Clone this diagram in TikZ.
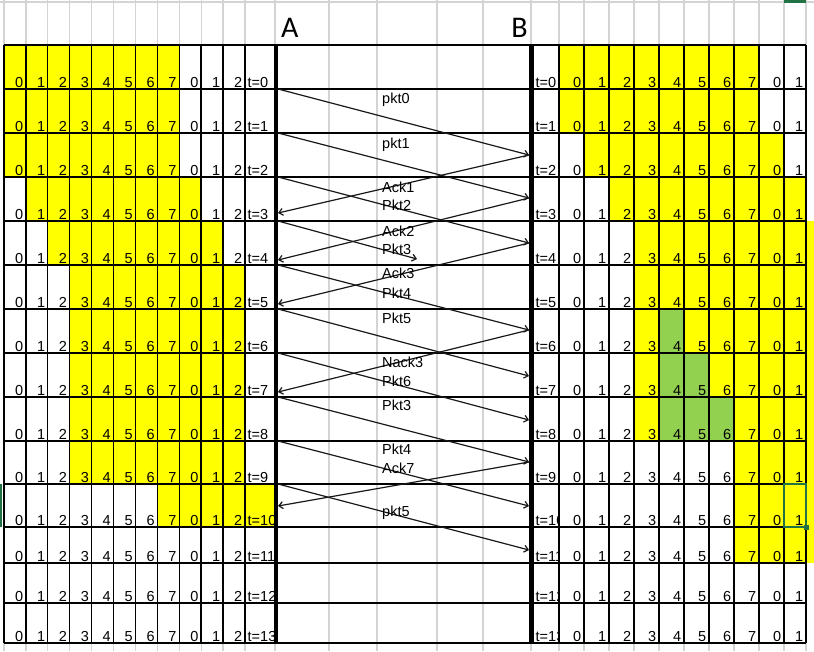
\documentclass[tikz,border=0pt]{standalone}
\usepackage{fontspec}
\setmainfont{Liberation Sans}
\newfontfamily\calib{Carlito}
\usetikzlibrary{arrows.meta}
\definecolor{xlyellow}{HTML}{FFFF00}
\definecolor{xlgreen}{HTML}{92D050}
\definecolor{xlgrid}{HTML}{D4D4D4}
\definecolor{xlsel}{HTML}{217346}
\begin{document}
\begin{tikzpicture}[x=1pt,y=-1pt,
  num/.style={inner sep=0pt,font=\fontsize{14.5}{14.5}\selectfont},
  lbl/.style={inner sep=0pt,anchor=west,font=\fontsize{14.5}{14.5}\selectfont},
  head/.style={inner sep=0pt,font=\calib\fontsize{30}{30}\selectfont},
  border/.style={line width=1.3pt,black},
  grid/.style={line width=1.2pt,xlgrid},
  host/.style={line width=4.5pt,black},
  msg/.style={line width=1.2pt,black!90,-{Straight Barb[length=4pt,width=7pt]}},
  sel/.style={line width=2pt,xlsel}]
\def\Y{{45,89,133,177,221,265,309,353,397,441,484,527,563,603,643}}
\def\XL{{4,25.9,47.8,69.7,91.6,113.5,135.4,157.3,179.2,201.1,223,244.9,274}}
\def\XR{{559,584,609,634,659,684,709,734,759,784,806}}
% background and spreadsheet gridlines
\fill[white] (0,0) rectangle (814,651);
\useasboundingbox (0,0) rectangle (814,651);
\draw[grid] (0,2) -- (814,2);
\foreach \x in {4,25.9,47.8,69.7,91.6,113.5,135.4,157.3,179.2,201.1,223,244.9,275,329,377,437,483,531,559,584,609,634,659,684,709,734,759,784,806}
  \draw[grid] (\x,0) -- (\x,651);
% yellow fills, left
\foreach \r/\a/\b in {0/0/7,1/0/7,2/0/7,3/1/8,4/2/9,5/3/10,6/3/10,7/3/10,8/3/10,9/3/10,10/7/11}{
  \pgfmathtruncatemacro\rr{\r+1}\pgfmathtruncatemacro\bb{\b+1}
  \pgfmathsetmacro\yt{\Y[\r]}\pgfmathsetmacro\yb{\Y[\rr]}
  \pgfmathsetmacro\xa{\XL[\a]}\pgfmathsetmacro\xb{\XL[\bb]}
  \fill[xlyellow] (\xa,\yt) rectangle (\xb,\yb);
}
% yellow fills, right
\foreach \r/\a/\b in {0/0/7,1/0/7,2/1/8,3/2/9,4/3/9,5/3/9,6/3/9,7/3/9,8/3/9,9/7/9,10/7/9,11/7/9}{
  \pgfmathtruncatemacro\rr{\r+1}\pgfmathtruncatemacro\bb{\b+1}
  \pgfmathsetmacro\yt{\Y[\r]}\pgfmathsetmacro\yb{\Y[\rr]}
  \pgfmathsetmacro\xa{\XR[\a]}\pgfmathsetmacro\xb{\XR[\bb]}
  \fill[xlyellow] (\xa,\yt) rectangle (\xb,\yb);
}
\fill[xlyellow] (807,221) rectangle (814,563);
% green fills, right
\foreach \r/\a/\b in {6/4/4,7/4/5,8/4/6}{
  \pgfmathtruncatemacro\rr{\r+1}\pgfmathtruncatemacro\bb{\b+1}
  \pgfmathsetmacro\yt{\Y[\r]}\pgfmathsetmacro\yb{\Y[\rr]}
  \pgfmathsetmacro\xa{\XR[\a]}\pgfmathsetmacro\xb{\XR[\bb]}
  \fill[xlgreen] (\xa,\yt) rectangle (\xb,\yb);
}
% cell borders
\foreach \y in {45,89,133,177,221,265,309,353,397,441,484,527,563,603,643}
  \draw[border] (4,\y) -- (806,\y);
\foreach \x in {4,25.9,47.8,69.7,91.6,113.5,135.4,157.3,179.2,201.1,223,244.9,559,584,609,634,659,684,709,734,759,784,806}
  \draw[border] (\x,45) -- (\x,643);
% cell texts
\foreach \r in {0,...,13}{
  \pgfmathtruncatemacro\rr{\r+1}
  \pgfmathsetmacro\yb{\Y[\rr]}
  \foreach \lab [count=\i from 1] in {0,1,2,3,4,5,6,7,0,1,2}{
    \pgfmathsetmacro\xr{\XL[\i]}
    \node[num,anchor=base east] (L\r-\i) at (\xr-2.5,\yb-2) {\lab};
  }
  \node[num,anchor=base west] (LT\r) at (247.5,\yb-2) {t=\r};
  \foreach \lab [count=\j from 1] in {0,1,2,3,4,5,6,7,0,1}{
    \pgfmathsetmacro\xr{\XR[\j]}
    \node[num,anchor=base east] (R\r-\j) at (\xr-2.5,\yb-2) {\lab};
  }
  \begin{scope}
    \clip (533.5,45) rectangle (558,643);
    \node[num,anchor=base west] (RT\r) at (535.5,\yb-2) {t=\r};
  \end{scope}
}
% host time lines
\draw[host] (276,45) -- (276,643);
\draw[host] (531.5,45) -- (531.5,643);
\node[head,anchor=base west] (hA) at (281,37) {A};
\node[head,anchor=base east] (hB) at (528,37) {B};
% messages A -> B
\foreach \n/\ya/\yb in {p0/89/155,p1/133/198,p2/177/243,p4/265/330,p5/309/376,p6/353/420,p3r/397/462,p4r/441/506,p5r/484/550}{
  \coordinate (\n-s) at (278,\ya);
  \coordinate (\n-e) at (529,\yb);
  \draw[msg] (\n-s) -- (\n-e);
}
\coordinate (p3-s) at (278,221);
\coordinate (p3-e) at (417,259);
\draw[msg] (p3-s) -- (p3-e);
% acknowledgements B -> A
\foreach \n/\yb/\ya in {a1/155/213,a2/198/260,a3/243/304,n3/330/392,a7/462/506}{
  \coordinate (\n-s) at (529,\yb);
  \coordinate (\n-e) at (278,\ya);
  \draw[msg] (\n-s) -- (\n-e);
}
% message labels
\foreach \n/\t/\y in {t1/pkt0/100,t2/pkt1/145,t3/Ack1/187,t4/Pkt2/205,t5/Ack2/231,t6/Pkt3/249,t7/Ack3/273,t8/Pkt4/293,t9/Pkt5/318,t10/Nack3/362,t11/Pkt6/381,t12/Pkt3/405,t13/Pkt4/449,t14/Ack7/468,t15/pkt5/513}
  \node[lbl] (\n) at (382,\y) {\t};
% spreadsheet selection marks
\draw[sel] (784,484) rectangle (806,527);
\fill[xlsel] (803.5,524.5) rectangle (808.5,529.5);
\fill[xlsel] (0,484) rectangle (2,527);
\fill[xlsel] (784,0) rectangle (806,2.5);
\end{tikzpicture}
\end{document}
